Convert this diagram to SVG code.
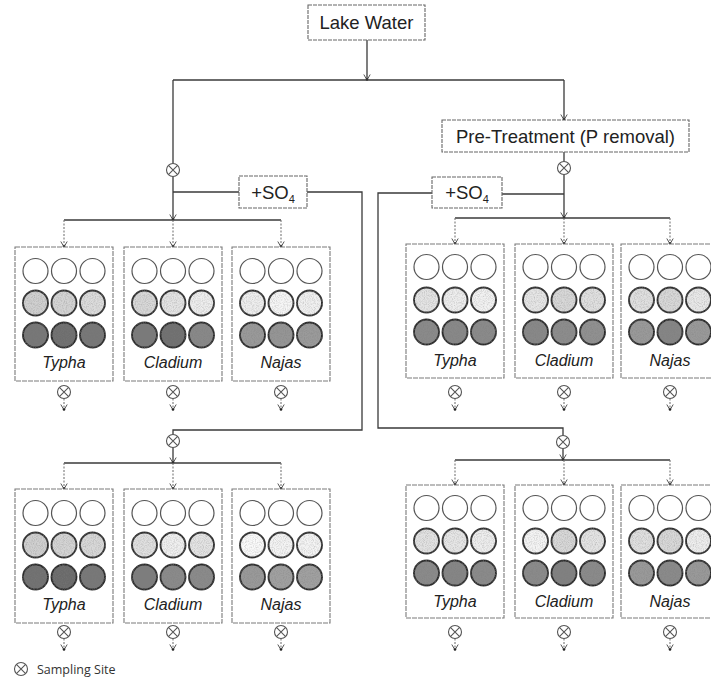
<svg xmlns="http://www.w3.org/2000/svg" xmlns:xlink="http://www.w3.org/1999/xlink" width="711" height="681" viewBox="0 0 711 681">
<style>
.bg{fill:#ffffff}
.lbl{font-family:"Liberation Sans",Arial,sans-serif;font-size:18.5px;fill:#222;text-anchor:middle}
.sp{font-family:"Liberation Sans",Arial,sans-serif;font-size:16px;font-style:italic;fill:#222;text-anchor:middle}
.box{fill:#fff;stroke:#666;stroke-width:1.1;stroke-dasharray:4 1}
.tank{fill:#fff;stroke:#7a7a7a;stroke-width:1.1;stroke-dasharray:5 1}
.ln{fill:none;stroke:#3a3a3a;stroke-width:1.3}
.dr{fill:none;stroke:#777;stroke-width:1.1;stroke-dasharray:2 1.5}
.r1{stroke:#555;stroke-width:1.2}
.r2{stroke:#2e2e2e;stroke-width:1.9;filter:url(#spk)}
.r3{stroke:#2a2a2a;stroke-width:1.9;filter:url(#spk)}
.ss{fill:none;stroke:#555;stroke-width:1.1}
.leg{font-family:"Open Sans","DejaVu Sans",sans-serif;font-size:12.5px;fill:#333}
</style>
<defs>
<filter id="spk" x="-10%" y="-10%" width="120%" height="120%">
<feTurbulence type="fractalNoise" baseFrequency="0.9" numOctaves="2" seed="4" result="t"/>
<feColorMatrix in="t" type="matrix" values="0 0 0 0 0.2  0 0 0 0 0.2  0 0 0 0 0.2  0.9 0 0 0 -0.35" result="a"/>
<feComposite in="a" in2="SourceGraphic" operator="atop"/>
</filter>
<marker id="arr" viewBox="-7 -4 8 8" markerWidth="8" markerHeight="8" refX="0" refY="0" orient="auto" markerUnits="userSpaceOnUse">
<path d="M-5.5,-3.2 L0,0 L-5.5,3.2" fill="none" stroke="#555" stroke-width="1"/>
<circle cx="-0.5" cy="0" r="1.3" fill="#222"/>
</marker>
<g id="ssym"><circle r="6.5" class="ss"/><path d="M-4.6,-4.6 L4.6,4.6 M-4.6,4.6 L4.6,-4.6" class="ss"/></g>
</defs>
<rect class="bg" x="0" y="0" width="711" height="681"/>

<g id="connectors">
<path class="ln" d="M367,40 V80" marker-end="url(#arr)"/>
<path class="ln" d="M173,80 H564"/>
<path class="ln" d="M173,80 V163.5"/>
<path class="ln" d="M173,176.5 V220" marker-end="url(#arr)"/>
<path class="ln" d="M173,192 H239"/>
<path class="ln" d="M307,192 H362 V430 H173 V434.5"/>
<path class="ln" d="M173,447.5 V463" marker-end="url(#arr)"/>
<path class="ln" d="M64,220 H281"/>
<path class="dr" d="M64,220 V247" marker-end="url(#arr)"/>
<path class="dr" d="M173,220 V247" marker-end="url(#arr)"/>
<path class="dr" d="M281,220 V247" marker-end="url(#arr)"/>
<path class="ln" d="M64,463 H281"/>
<path class="dr" d="M64,463 V489" marker-end="url(#arr)"/>
<path class="dr" d="M173,463 V489" marker-end="url(#arr)"/>
<path class="dr" d="M281,463 V489" marker-end="url(#arr)"/>

<path class="ln" d="M564,80 V120" marker-end="url(#arr)"/>
<path class="ln" d="M564,152 V161.5"/>
<path class="ln" d="M564,174.5 V218" marker-end="url(#arr)"/>
<path class="ln" d="M564,194 H502"/>
<path class="ln" d="M432,193 H378 V428 H563 V435.5"/>
<path class="ln" d="M563,448.5 V460" marker-end="url(#arr)"/>
<path class="ln" d="M455,218 H670"/>
<path class="dr" d="M455,218 V244" marker-end="url(#arr)"/>
<path class="dr" d="M564,218 V244" marker-end="url(#arr)"/>
<path class="dr" d="M670,218 V244" marker-end="url(#arr)"/>
<path class="ln" d="M455,460 H670"/>
<path class="dr" d="M455,460 V485" marker-end="url(#arr)"/>
<path class="dr" d="M564,460 V485" marker-end="url(#arr)"/>
<path class="dr" d="M670,460 V485" marker-end="url(#arr)"/>

<path class="dr" d="M64,398.5 V410" marker-end="url(#arr)"/>
<path class="dr" d="M173,398.5 V410" marker-end="url(#arr)"/>
<path class="dr" d="M281,398.5 V410" marker-end="url(#arr)"/>
<path class="dr" d="M455,398.5 V410" marker-end="url(#arr)"/>
<path class="dr" d="M564,398.5 V410" marker-end="url(#arr)"/>
<path class="dr" d="M670,398.5 V410" marker-end="url(#arr)"/>
<path class="dr" d="M64,638.5 V650" marker-end="url(#arr)"/>
<path class="dr" d="M173,638.5 V650" marker-end="url(#arr)"/>
<path class="dr" d="M281,638.5 V650" marker-end="url(#arr)"/>
<path class="dr" d="M455,638.5 V650" marker-end="url(#arr)"/>
<path class="dr" d="M564,638.5 V650" marker-end="url(#arr)"/>
<path class="dr" d="M670,638.5 V650" marker-end="url(#arr)"/>
</g>

<g id="sampling-sites">
<use xlink:href="#ssym" x="173" y="170"/>
<use xlink:href="#ssym" x="564" y="168"/>
<use xlink:href="#ssym" x="173" y="441"/>
<use xlink:href="#ssym" x="563" y="442"/>
<use xlink:href="#ssym" x="64" y="392"/>
<use xlink:href="#ssym" x="173" y="392"/>
<use xlink:href="#ssym" x="281" y="392"/>
<use xlink:href="#ssym" x="455" y="392"/>
<use xlink:href="#ssym" x="564" y="392"/>
<use xlink:href="#ssym" x="670" y="392"/>
<use xlink:href="#ssym" x="64" y="632"/>
<use xlink:href="#ssym" x="173" y="632"/>
<use xlink:href="#ssym" x="281" y="632"/>
<use xlink:href="#ssym" x="455" y="632"/>
<use xlink:href="#ssym" x="564" y="632"/>
<use xlink:href="#ssym" x="670" y="632"/>
</g>

<g id="lake-water">
<rect class="box" x="308" y="5" width="117" height="35"/>
<text class="lbl" x="366.5" y="29">Lake Water</text>
</g>
<g id="pre-treatment">
<rect class="box" x="442" y="120" width="247" height="32"/>
<text class="lbl" x="565.5" y="143">Pre-Treatment (P removal)</text>
</g>
<g id="so4-left">
<rect class="box" x="239" y="176" width="68" height="32"/>
<text class="lbl" x="273" y="199">+SO<tspan font-size="11" dy="4">4</tspan></text>
</g>
<g id="so4-right">
<rect class="box" x="432" y="177" width="70" height="31"/>
<text class="lbl" x="467" y="199">+SO<tspan font-size="11" dy="4">4</tspan></text>
</g>

<!-- top-left group -->
<g id="tl-typha">
<rect class="tank" x="15" y="247" width="98" height="134"/>
<circle class="r1" cx="35.5" cy="271" r="12.5" fill="#fff"/><circle class="r1" cx="64" cy="271" r="12.5" fill="#fff"/><circle class="r1" cx="92.5" cy="271" r="12.5" fill="#fff"/>
<circle class="r2" cx="35.5" cy="303" r="12.5" fill="#d0d0d0"/><circle class="r2" cx="64" cy="303" r="12.5" fill="#d4d4d4"/><circle class="r2" cx="92.5" cy="303" r="12.5" fill="#dcdcdc"/>
<circle class="r3" cx="35.5" cy="335" r="12.5" fill="#767676"/><circle class="r3" cx="64" cy="335" r="12.5" fill="#6e6e6e"/><circle class="r3" cx="92.5" cy="335" r="12.5" fill="#767676"/>
<text class="sp" x="64" y="368">Typha</text>
</g>
<g id="tl-cladium">
<rect class="tank" x="124" y="247" width="98" height="134"/>
<circle class="r1" cx="144.5" cy="271" r="12.5" fill="#fff"/><circle class="r1" cx="173" cy="271" r="12.5" fill="#fff"/><circle class="r1" cx="201.5" cy="271" r="12.5" fill="#fff"/>
<circle class="r2" cx="144.5" cy="303" r="12.5" fill="#d8d8d8"/><circle class="r2" cx="173" cy="303" r="12.5" fill="#e4e4e4"/><circle class="r2" cx="201.5" cy="303" r="12.5" fill="#eeeeee"/>
<circle class="r3" cx="144.5" cy="335" r="12.5" fill="#7a7a7a"/><circle class="r3" cx="173" cy="335" r="12.5" fill="#6f6f6f"/><circle class="r3" cx="201.5" cy="335" r="12.5" fill="#888"/>
<text class="sp" x="173" y="368">Cladium</text>
</g>
<g id="tl-najas">
<rect class="tank" x="232" y="247" width="98" height="134"/>
<circle class="r1" cx="252.5" cy="271" r="12.5" fill="#fff"/><circle class="r1" cx="281" cy="271" r="12.5" fill="#fff"/><circle class="r1" cx="309.5" cy="271" r="12.5" fill="#fff"/>
<circle class="r2" cx="252.5" cy="303" r="12.5" fill="#eeeeee"/><circle class="r2" cx="281" cy="303" r="12.5" fill="#f6f6f6"/><circle class="r2" cx="309.5" cy="303" r="12.5" fill="#f0f0f0"/>
<circle class="r3" cx="252.5" cy="335" r="12.5" fill="#999"/><circle class="r3" cx="281" cy="335" r="12.5" fill="#959595"/><circle class="r3" cx="309.5" cy="335" r="12.5" fill="#9a9a9a"/>
<text class="sp" x="281" y="368">Najas</text>
</g>

<!-- top-right group -->
<g id="tr-typha">
<rect class="tank" x="406" y="244" width="98" height="134"/>
<circle class="r1" cx="426.5" cy="267" r="12.5" fill="#fff"/><circle class="r1" cx="455" cy="267" r="12.5" fill="#fff"/><circle class="r1" cx="483.5" cy="267" r="12.5" fill="#fff"/>
<circle class="r2" cx="426.5" cy="300" r="12.5" fill="#e4e4e4"/><circle class="r2" cx="455" cy="300" r="12.5" fill="#eeeeee"/><circle class="r2" cx="483.5" cy="300" r="12.5" fill="#f2f2f2"/>
<circle class="r3" cx="426.5" cy="332" r="12.5" fill="#8a8a8a"/><circle class="r3" cx="455" cy="332" r="12.5" fill="#888"/><circle class="r3" cx="483.5" cy="332" r="12.5" fill="#8a8a8a"/>
<text class="sp" x="455" y="366">Typha</text>
</g>
<g id="tr-cladium">
<rect class="tank" x="515" y="244" width="98" height="134"/>
<circle class="r1" cx="535.5" cy="267" r="12.5" fill="#fff"/><circle class="r1" cx="564" cy="267" r="12.5" fill="#fff"/><circle class="r1" cx="592.5" cy="267" r="12.5" fill="#fff"/>
<circle class="r2" cx="535.5" cy="300" r="12.5" fill="#e6e6e6"/><circle class="r2" cx="564" cy="300" r="12.5" fill="#d8d8d8"/><circle class="r2" cx="592.5" cy="300" r="12.5" fill="#e0e0e0"/>
<circle class="r3" cx="535.5" cy="332" r="12.5" fill="#888"/><circle class="r3" cx="564" cy="332" r="12.5" fill="#8c8c8c"/><circle class="r3" cx="592.5" cy="332" r="12.5" fill="#909090"/>
<text class="sp" x="564" y="366">Cladium</text>
</g>
<g id="tr-najas">
<rect class="tank" x="621" y="244" width="98" height="134"/>
<circle class="r1" cx="641.5" cy="267" r="12.5" fill="#fff"/><circle class="r1" cx="670" cy="267" r="12.5" fill="#fff"/><circle class="r1" cx="698.5" cy="267" r="12.5" fill="#fff"/>
<circle class="r2" cx="641.5" cy="300" r="12.5" fill="#e0e0e0"/><circle class="r2" cx="670" cy="300" r="12.5" fill="#d8d8d8"/><circle class="r2" cx="698.5" cy="300" r="12.5" fill="#e8e8e8"/>
<circle class="r3" cx="641.5" cy="332" r="12.5" fill="#999"/><circle class="r3" cx="670" cy="332" r="12.5" fill="#858585"/><circle class="r3" cx="698.5" cy="332" r="12.5" fill="#999"/>
<text class="sp" x="670" y="366">Najas</text>
</g>

<!-- bottom-left group -->
<g id="bl-typha">
<rect class="tank" x="15" y="489" width="98" height="134"/>
<circle class="r1" cx="35.5" cy="513" r="12.5" fill="#fff"/><circle class="r1" cx="64" cy="513" r="12.5" fill="#fff"/><circle class="r1" cx="92.5" cy="513" r="12.5" fill="#fff"/>
<circle class="r2" cx="35.5" cy="545" r="12.5" fill="#d0d0d0"/><circle class="r2" cx="64" cy="545" r="12.5" fill="#d4d4d4"/><circle class="r2" cx="92.5" cy="545" r="12.5" fill="#d8d8d8"/>
<circle class="r3" cx="35.5" cy="577" r="12.5" fill="#707070"/><circle class="r3" cx="64" cy="577" r="12.5" fill="#6a6a6a"/><circle class="r3" cx="92.5" cy="577" r="12.5" fill="#777"/>
<text class="sp" x="64" y="610">Typha</text>
</g>
<g id="bl-cladium">
<rect class="tank" x="124" y="489" width="98" height="134"/>
<circle class="r1" cx="144.5" cy="513" r="12.5" fill="#fff"/><circle class="r1" cx="173" cy="513" r="12.5" fill="#fff"/><circle class="r1" cx="201.5" cy="513" r="12.5" fill="#fff"/>
<circle class="r2" cx="144.5" cy="545" r="12.5" fill="#e0e0e0"/><circle class="r2" cx="173" cy="545" r="12.5" fill="#f0f0f0"/><circle class="r2" cx="201.5" cy="545" r="12.5" fill="#e4e4e4"/>
<circle class="r3" cx="144.5" cy="577" r="12.5" fill="#7d7d7d"/><circle class="r3" cx="173" cy="577" r="12.5" fill="#8a8a8a"/><circle class="r3" cx="201.5" cy="577" r="12.5" fill="#8a8a8a"/>
<text class="sp" x="173" y="610">Cladium</text>
</g>
<g id="bl-najas">
<rect class="tank" x="232" y="489" width="98" height="134"/>
<circle class="r1" cx="252.5" cy="513" r="12.5" fill="#fff"/><circle class="r1" cx="281" cy="513" r="12.5" fill="#fff"/><circle class="r1" cx="309.5" cy="513" r="12.5" fill="#fff"/>
<circle class="r2" cx="252.5" cy="545" r="12.5" fill="#fafafa"/><circle class="r2" cx="281" cy="545" r="12.5" fill="#f4f4f4"/><circle class="r2" cx="309.5" cy="545" r="12.5" fill="#f4f4f4"/>
<circle class="r3" cx="252.5" cy="577" r="12.5" fill="#999"/><circle class="r3" cx="281" cy="577" r="12.5" fill="#a0a0a0"/><circle class="r3" cx="309.5" cy="577" r="12.5" fill="#a0a0a0"/>
<text class="sp" x="281" y="610">Najas</text>
</g>

<!-- bottom-right group -->
<g id="br-typha">
<rect class="tank" x="406" y="485" width="98" height="133"/>
<circle class="r1" cx="426.5" cy="508" r="12.5" fill="#fff"/><circle class="r1" cx="455" cy="508" r="12.5" fill="#fff"/><circle class="r1" cx="483.5" cy="508" r="12.5" fill="#fff"/>
<circle class="r2" cx="426.5" cy="541" r="12.5" fill="#e2e2e2"/><circle class="r2" cx="455" cy="541" r="12.5" fill="#e6e6e6"/><circle class="r2" cx="483.5" cy="541" r="12.5" fill="#eeeeee"/>
<circle class="r3" cx="426.5" cy="573" r="12.5" fill="#8a8a8a"/><circle class="r3" cx="455" cy="573" r="12.5" fill="#858585"/><circle class="r3" cx="483.5" cy="573" r="12.5" fill="#8a8a8a"/>
<text class="sp" x="455" y="607">Typha</text>
</g>
<g id="br-cladium">
<rect class="tank" x="515" y="485" width="98" height="133"/>
<circle class="r1" cx="535.5" cy="508" r="12.5" fill="#fff"/><circle class="r1" cx="564" cy="508" r="12.5" fill="#fff"/><circle class="r1" cx="592.5" cy="508" r="12.5" fill="#fff"/>
<circle class="r2" cx="535.5" cy="541" r="12.5" fill="#f4f4f4"/><circle class="r2" cx="564" cy="541" r="12.5" fill="#d8d8d8"/><circle class="r2" cx="592.5" cy="541" r="12.5" fill="#e4e4e4"/>
<circle class="r3" cx="535.5" cy="573" r="12.5" fill="#8a8a8a"/><circle class="r3" cx="564" cy="573" r="12.5" fill="#808080"/><circle class="r3" cx="592.5" cy="573" r="12.5" fill="#8a8a8a"/>
<text class="sp" x="564" y="607">Cladium</text>
</g>
<g id="br-najas">
<rect class="tank" x="621" y="485" width="98" height="133"/>
<circle class="r1" cx="641.5" cy="508" r="12.5" fill="#fff"/><circle class="r1" cx="670" cy="508" r="12.5" fill="#fff"/><circle class="r1" cx="698.5" cy="508" r="12.5" fill="#fff"/>
<circle class="r2" cx="641.5" cy="541" r="12.5" fill="#e0e0e0"/><circle class="r2" cx="670" cy="541" r="12.5" fill="#d8d8d8"/><circle class="r2" cx="698.5" cy="541" r="12.5" fill="#eeeeee"/>
<circle class="r3" cx="641.5" cy="573" r="12.5" fill="#999"/><circle class="r3" cx="670" cy="573" r="12.5" fill="#8a8a8a"/><circle class="r3" cx="698.5" cy="573" r="12.5" fill="#999"/>
<text class="sp" x="670" y="607">Najas</text>
</g>

<g id="legend">
<use xlink:href="#ssym" x="21" y="669"/>
<text class="leg" x="37" y="673.5">Sampling Site</text>
</g>
</svg>
